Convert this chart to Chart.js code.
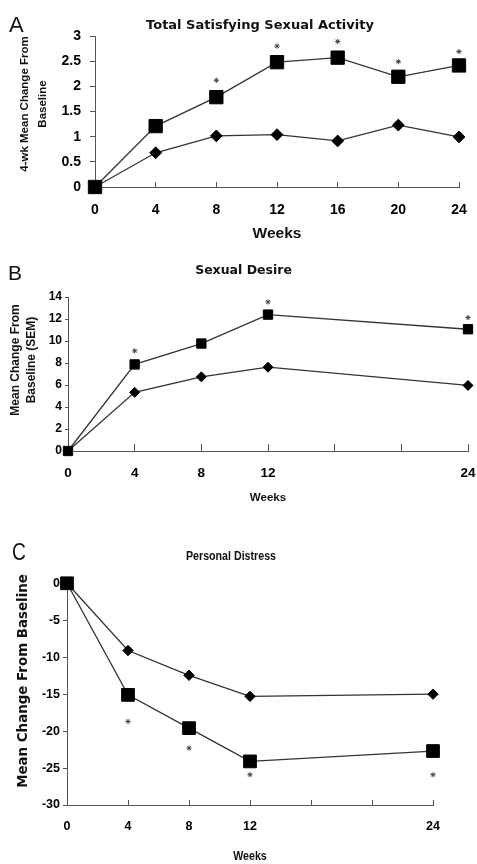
<!DOCTYPE html>
<html><head><meta charset="utf-8">
<script src="https://cdn.jsdelivr.net/npm/chart.js@4.4.0/dist/chart.umd.min.js"></script>
<style>
html,body{margin:0;padding:0;background:#fff;width:477px;height:864px;overflow:hidden;}
canvas{position:absolute;left:0;}
</style></head><body>
<canvas id="cA" width="477" height="250" style="top:0px"></canvas>
<canvas id="cB" width="477" height="278" style="top:250px"></canvas>
<canvas id="cC" width="477" height="336" style="top:528px"></canvas>
<script>
// ---------- DATA ----------
const weekTickValues = [0, 4, 8, 12, 16, 20, 24];

// Panel A: Total Satisfying Sexual Activity
const weeksA = [0, 4, 8, 12, 16, 20, 24];
const squareA = [0, 1.21, 1.785, 2.48, 2.57, 2.19, 2.415];
const diamondA = [0, 0.68, 1.015, 1.04, 0.915, 1.23, 0.995];
const starWeeksA = [8, 12, 16, 20, 24];
const starValuesA = [2.12, 2.8, 2.89, 2.49, 2.69];
const xTickLabelsA = ['0', '4', '8', '12', '16', '20', '24'];
const yTickLabelsA = ['0', '0.5', '1', '1.5', '2', '2.5', '3'];

// Panel B: Sexual Desire
const weeksB = [0, 4, 8, 12, 24];
const squareB = [0, 7.87, 9.77, 12.4, 11.07];
const diamondB = [0, 5.33, 6.74, 7.62, 5.96];
const starWeeksB = [4, 12, 24];
const starValuesB = [9.1, 13.55, 12.13];
const xTickLabelsB = ['0', '4', '8', '12', '', '', '24'];
const yTickLabelsB = ['0', '2', '4', '6', '8', '10', '12', '14'];

// Panel C: Personal Distress
const weeksC = [0, 4, 8, 12, 24];
const squareC = [0, -15.1, -19.6, -24.1, -22.7];
const diamondC = [0, -9.1, -12.45, -15.3, -15.0];
const starWeeksC = [4, 8, 12, 24];
const starValuesC = [-18.7, -22.3, -25.9, -25.9];
const xTickLabelsC = ['0', '4', '8', '12', '', '', '24'];
const yTickLabelsC = ['-30', '-25', '-20', '-15', '-10', '-5', '0'];

// ---------- HELPERS ----------
const ARIAL = "'Liberation Sans', Arial, sans-serif";
const DEJAVU = "'DejaVu Sans', sans-serif";

const pts = (xs, ys) => xs.map((x, i) => ({x: x, y: ys[i]}));

const textPlugin = {
  id: 'panelTexts',
  afterDraw(chart, args, opts) {
    const ctx = chart.ctx;
    (opts.items || []).forEach(it => {
      ctx.save();
      ctx.font = it.font;
      ctx.fillStyle = it.color || '#111';
      ctx.textAlign = it.align || 'center';
      ctx.textBaseline = it.baseline || 'middle';
      ctx.translate(it.x, it.y);
      if (it.rotate) ctx.rotate(it.rotate);
      if (it.sx) ctx.scale(it.sx, 1);
      ctx.fillText(it.text, 0, 0);
      ctx.restore();
    });
  }
};

function makePanel(id, p) {
  const ctx = document.getElementById(id).getContext('2d');
  return new Chart(ctx, {
    type: 'line',
    data: {
      datasets: [
        {
          data: pts(p.weeks, p.square), borderColor: '#333', borderWidth: 1.3,
          pointStyle: 'rect', pointRadius: p.sqR, pointBackgroundColor: '#000',
          pointBorderColor: '#000', pointBorderWidth: 1, clip: false, tension: 0
        },
        {
          data: pts(p.weeks, p.diamond), borderColor: '#333', borderWidth: 1.3,
          pointStyle: 'rectRot', pointRadius: p.diR, pointBackgroundColor: '#000',
          pointBorderColor: '#000', pointBorderWidth: 1, clip: false, tension: 0
        },
        {
          data: pts(p.starWeeks, p.starValues), showLine: false,
          pointStyle: 'star', pointRadius: 2.6, borderColor: '#444',
          pointBorderColor: '#444', pointBorderWidth: 1, clip: false
        }
      ]
    },
    options: {
      responsive: false, animation: false, devicePixelRatio: 1,
      layout: {padding: p.pad},
      plugins: {legend: {display: false}, tooltip: {enabled: false}, title: {display: false},
        panelTexts: {items: p.texts}},
      scales: {
        x: {
          type: 'linear', min: 0, max: 24,
          afterFit: s => { s.height = p.xH; s.paddingLeft = 0; s.paddingRight = 0; s.paddingTop = 0; s.paddingBottom = 0; },
          border: {display: true, color: '#555', width: 1},
          grid: {display: true, drawOnChartArea: false, drawTicks: true, tickLength: -p.xTick, color: '#555', lineWidth: 1},
          ticks: {
            stepSize: 4, autoSkip: false, maxRotation: 0, padding: p.xTickPad, color: '#000',
            font: p.xTickFont,
            callback: (v) => { const i = weekTickValues.indexOf(v); return i >= 0 ? p.xLabels[i] : ''; }
          },
          title: {display: p.xTitleNative, text: 'Weeks', color: '#111', font: p.xTitleFont, padding: 0}
        },
        y: {
          min: p.yMin, max: p.yMax,
          afterFit: s => { s.width = p.yW; s.paddingLeft = 0; s.paddingRight = 0; s.paddingTop = 0; s.paddingBottom = 0; },
          border: {display: true, color: '#555', width: 1},
          grid: {display: true, drawOnChartArea: false, drawTicks: true, tickLength: p.yTick, color: '#555', lineWidth: 1},
          ticks: {
            stepSize: p.yStep, autoSkip: false, padding: p.yTickPad, color: '#000', font: p.yTickFont,
            callback: (v, i) => p.yLabels[i]
          }
        }
      }
    },
    plugins: [textPlugin]
  });
}

// Panel A: canvas 477x250 at top 0; plot area x 95..459, y 36..187
makePanel('cA', {
  weeks: weeksA, square: squareA, diamond: diamondA, starWeeks: starWeeksA, starValues: starValuesA,
  xLabels: xTickLabelsA, yLabels: yTickLabelsA, yMin: 0, yMax: 3, yStep: 0.5,
  sqR: 9.4, diR: 5.9,
  pad: {left: 0, right: 18, top: 36, bottom: 7},
  xH: 56, yW: 95, xTick: 5, yTick: 5, xTickPad: 19.6, yTickPad: 9,
  xTickFont: {family: ARIAL, size: 14, weight: 'bold', lineHeight: 1.2},
  yTickFont: {family: ARIAL, size: 14, weight: 'bold', lineHeight: 1.2},
  xTitleNative: true,
  xTitleFont: {family: ARIAL, size: 15.5, weight: 'bold', lineHeight: 1.2},
  texts: [
    {text: 'A', x: 9, y: 32, font: '22px ' + ARIAL, align: 'left', baseline: 'alphabetic'},
    {text: 'Total Satisfying Sexual Activity', x: 260, y: 26, font: 'bold 13px ' + DEJAVU},
    {text: '4-wk Mean Change From', x: 25, y: 104, font: 'bold 11.5px ' + ARIAL, rotate: -Math.PI / 2},
    {text: 'Baseline', x: 43, y: 104, font: 'bold 11.5px ' + ARIAL, rotate: -Math.PI / 2}
  ]
});

// Panel B: canvas 477x278 at top 250; plot area x 68..468, y 47..201 (canvas)
makePanel('cB', {
  weeks: weeksB, square: squareB, diamond: diamondB, starWeeks: starWeeksB, starValues: starValuesB,
  xLabels: xTickLabelsB, yLabels: yTickLabelsB, yMin: 0, yMax: 14, yStep: 2,
  sqR: 6.6, diR: 5,
  pad: {left: 0, right: 9, top: 47, bottom: 23.5},
  xH: 53.5, yW: 68, xTick: 7, yTick: 3, xTickPad: 20.9, yTickPad: 3,
  xTickFont: {family: ARIAL, size: 13.5, weight: 'bold', lineHeight: 1.2},
  yTickFont: {family: ARIAL, size: 12, weight: 'bold', lineHeight: 1.2},
  xTitleNative: true,
  xTitleFont: {family: ARIAL, size: 11.6, weight: 'bold', lineHeight: 1.2},
  texts: [
    {text: 'B', x: 8, y: 30, font: '21px ' + ARIAL, align: 'left', baseline: 'alphabetic'},
    {text: 'Sexual Desire', x: 243.5, y: 20.7, font: 'bold 12.5px ' + DEJAVU},
    {text: 'Mean Change From', x: 16, y: 110, font: 'bold 12px ' + ARIAL, rotate: -Math.PI / 2},
    {text: 'Baseline (SEM)', x: 32, y: 110, font: 'bold 12px ' + ARIAL, rotate: -Math.PI / 2}
  ]
});

// Panel C: canvas 477x336 at top 528; plot area x 67..433, y 55.3..277 (canvas)
makePanel('cC', {
  weeks: weeksC, square: squareC, diamond: diamondC, starWeeks: starWeeksC, starValues: starValuesC,
  xLabels: xTickLabelsC, yLabels: yTickLabelsC, yMin: -30, yMax: 0, yStep: 5,
  sqR: 9, diR: 5.2,
  pad: {left: 0, right: 44, top: 55.3, bottom: 0.2},
  xH: 58.8, yW: 67, xTick: 5, yTick: 4, xTickPad: 19.5, yTickPad: 3,
  xTickFont: {family: ARIAL, size: 12.5, weight: 'bold', lineHeight: 1.2},
  yTickFont: {family: ARIAL, size: 12.5, weight: 'bold', lineHeight: 1.2},
  xTitleNative: false,
  xTitleFont: {family: ARIAL, size: 13, weight: 'bold', lineHeight: 1.2},
  texts: [
    {text: 'C', x: 12, y: 32, font: '24px ' + ARIAL, align: 'left', baseline: 'alphabetic', sx: 0.8},
    {text: 'Personal Distress', x: 231, y: 28, font: 'bold 13px ' + ARIAL, sx: 0.82},
    {text: 'Mean Change From Baseline', x: 23.5, y: 153, font: 'bold 13.4px ' + DEJAVU, rotate: -Math.PI / 2},
    {text: 'Weeks', x: 250, y: 328, font: 'bold 13px ' + ARIAL, sx: 0.82}
  ]
});
</script>
</body></html>
